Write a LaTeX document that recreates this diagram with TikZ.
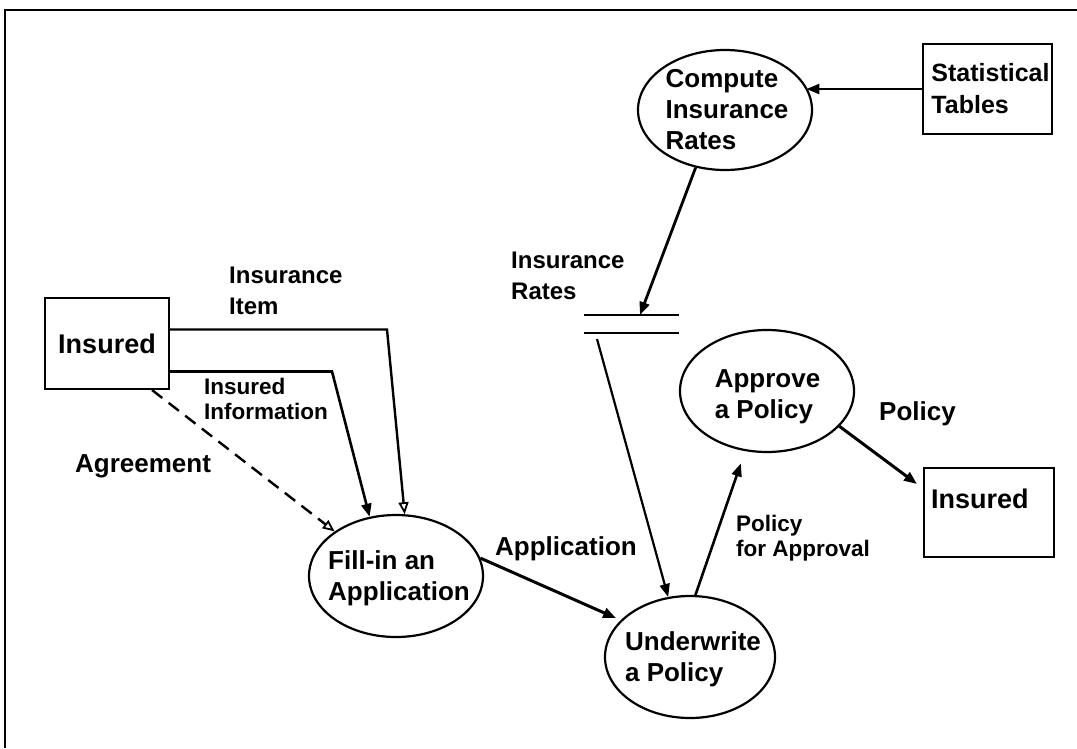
\documentclass[tikz,border=0pt]{standalone}
\usepackage{fontspec}
\setmainfont{Liberation Sans}
\usetikzlibrary{shapes.geometric,arrows.meta}

\begin{document}
\begin{tikzpicture}[x=1pt,y=-1pt,
  proc/.style={draw, ellipse, line width=2.2pt, inner sep=0pt},
  ent/.style={draw, rectangle, line width=2pt, inner sep=0pt},
  txt/.style={inner sep=0pt, align=left},
  huge/.style={font=\bfseries\fontsize{27}{32}\selectfont},
  big/.style={font=\bfseries\fontsize{26}{31}\selectfont},
  mid/.style={font=\bfseries\fontsize{25}{32}\selectfont},
  med/.style={font=\bfseries\fontsize{24}{31}\selectfont},
  small/.style={font=\bfseries\fontsize{22.5}{25.5}\selectfont},
  flow/.style={line width=2.6pt, -{Triangle[length=13pt,width=10pt]}},
  openflow/.style={line width=2.4pt, -{Triangle[open,length=12pt,width=10pt,line width=1.8pt,fill=white]}},
  store/.style={line width=2pt},
]
\useasboundingbox (0,0) rectangle (1077,748);

% page frame (left and top edges)
\draw[line width=2.4pt] (5,748) -- (5,10) -- (1077,10);

% external entities
\node[ent, huge, minimum width=124pt, minimum height=91pt] (ins1) at (107,343.5) {Insured};
\node[ent, minimum width=129pt, minimum height=90pt] (stat) at (987.5,89) {};
\node[txt, mid] (statt) at (990.5,89) {Statistical\\Tables};
\node[ent, minimum width=130pt, minimum height=89pt] (ins2) at (989,512.5) {};
\node[txt, huge, anchor=base west] (ins2t) at (931,508) {Insured};

% processes
\node[proc, minimum width=174pt, minimum height=120pt] (cmp) at (725,110) {};
\node[txt, big] (cmpt) at (727,110) {Compute\\Insurance\\Rates};
\node[proc, minimum width=174pt, minimum height=122pt] (fil) at (396,576) {};
\node[txt, big] (filt) at (399,578) {Fill-in an\\Application};
\node[proc, minimum width=170pt, minimum height=122pt] (und) at (690,657) {};
\node[txt, big] (undt) at (693,659) {Underwrite\\a Policy};
\node[proc, minimum width=174pt, minimum height=122pt] (apr) at (767,391) {};
\node[txt, big] (aprt) at (767.5,397) {Approve\\a Policy};

% data store
\node[minimum width=95pt, minimum height=18pt, inner sep=0pt, outer sep=0pt] (store) at (631.5,324) {};
\draw[store] (store.north west) -- (store.north east);
\draw[store] (store.south west) -- (store.south east);

% bend points of the two flows leaving the insured
\coordinate (itemBend) at (387,329.5);
\coordinate (infoBend) at (332,371.5);

% data flows
\draw[flow] (stat.west) -- (stat.west -| cmp.16);
\draw[flow, line width=2.8pt] (cmp.243) -- ([xshift=8.5pt]store.north);
\draw[line width=2.2pt, -{Triangle[length=13pt,width=10pt]}]
  ([xshift=-34.5pt,yshift=-6pt]store.south) -- (und.110);
\draw[openflow] ([yshift=14pt]ins1.east) -- (itemBend) -- (fil.82);
\draw[flow] ([yshift=-28pt]ins1.east) -- (infoBend) -- (fil.114);
\draw[openflow, dash pattern=on 13pt off 8pt] ([xshift=45pt]ins1.south) -- (fil.144);
\draw[flow, line width=3pt, shorten >=5pt] (fil.12) -- (und.152);
\draw[flow, shorten >=13pt] (und.85) -- (apr.250);
\draw[flow, line width=3pt] (apr.334) -- ([xshift=-6pt,yshift=-17pt]ins2.north west);

% flow labels
\node[txt, med, anchor=west] (lItem) at (229,291) {Insurance\\Item};
\node[txt, small, anchor=west] (lInfo) at (204,399) {Insured\\Information};
\node[txt, big, anchor=base west] (lAgr) at (75,472) {Agreement};
\node[txt, med, anchor=west] (lRates) at (511,276) {Insurance\\Rates};
\node[txt, big, anchor=base west] (lApp) at (495,555) {Application};
\node[txt, small, anchor=west] (lPfa) at (736,538) {Policy\\for Approval};
\node[txt, big, anchor=base west] (lPol) at (879,420) {Policy};
\end{tikzpicture}
\end{document}
